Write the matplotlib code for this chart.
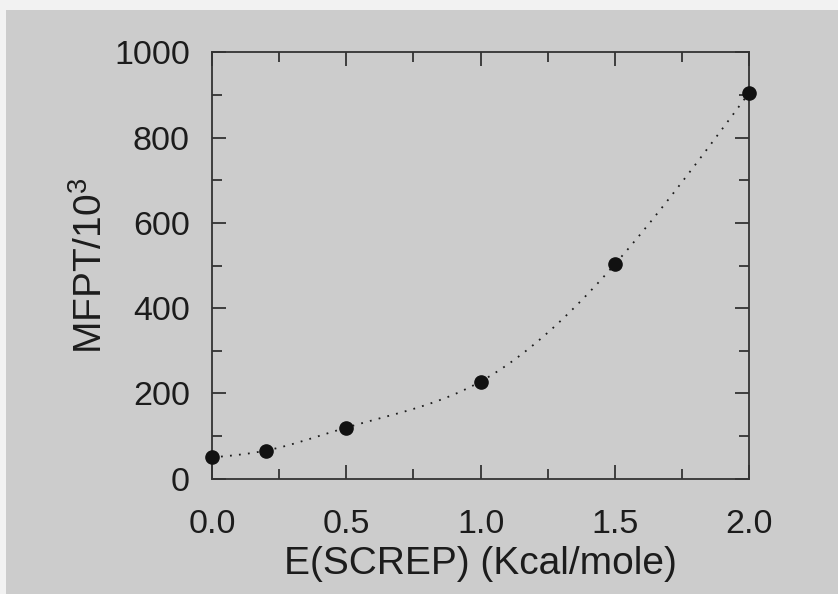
import numpy as np
import matplotlib
matplotlib.use("Agg")
import matplotlib.pyplot as plt
from matplotlib.patches import Rectangle
from matplotlib.ticker import MultipleLocator

# Data
energy = [0.0, 0.2, 0.5, 1.0, 1.5, 2.0]
mfpt = [50, 66, 120, 228, 503, 905]

x_ticks = [0.0, 0.5, 1.0, 1.5, 2.0]
x_ticklabels = ["0.0", "0.5", "1.0", "1.5", "2.0"]
y_ticks = [0, 200, 400, 600, 800, 1000]
y_ticklabels = ["0", "200", "400", "600", "800", "1000"]


def natural_spline(x, y, xs):
    x = np.asarray(x, float)
    y = np.asarray(y, float)
    n = len(x)
    h = np.diff(x)
    A = np.zeros((n, n))
    r = np.zeros(n)
    A[0, 0] = A[-1, -1] = 1
    for i in range(1, n - 1):
        A[i, i - 1] = h[i - 1]
        A[i, i] = 2 * (h[i - 1] + h[i])
        A[i, i + 1] = h[i]
        r[i] = 6 * ((y[i + 1] - y[i]) / h[i] - (y[i] - y[i - 1]) / h[i - 1])
    M = np.linalg.solve(A, r)
    idx = np.clip(np.searchsorted(x, xs) - 1, 0, n - 2)
    x0, x1 = x[idx], x[idx + 1]
    hh = x1 - x0
    t0 = x1 - xs
    t1 = xs - x0
    return (M[idx] * t0 ** 3 / (6 * hh) + M[idx + 1] * t1 ** 3 / (6 * hh)
            + (y[idx] / hh - M[idx] * hh / 6) * t0
            + (y[idx + 1] / hh - M[idx + 1] * hh / 6) * t1)


plt.rcParams['font.family'] = ['Liberation Sans', 'DejaVu Sans']
plt.rcParams['mathtext.fontset'] = 'custom'
plt.rcParams['mathtext.rm'] = 'Liberation Sans'
plt.rcParams['mathtext.it'] = 'Liberation Sans'
plt.rcParams['mathtext.default'] = 'regular'

bg = '#cccccc'
ink = '#1c1c1c'
fig = plt.figure(figsize=(8.38, 5.94), dpi=100, facecolor=bg)
# light scan border at top and left
fig.patches.append(Rectangle((0, 1 - 10 / 594), 1, 10 / 594, transform=fig.transFigure,
                             facecolor='#f2f2f2', edgecolor='none', zorder=0))
fig.patches.append(Rectangle((0, 0), 6 / 838, 1, transform=fig.transFigure,
                             facecolor='#f2f2f2', edgecolor='none', zorder=0))

ax = fig.add_axes([0.253, 0.194, 0.641, 0.718])
ax.set_facecolor(bg)

# smooth curve through the points (dotted)
xs = np.linspace(0, 2, 400)
ax.plot(xs, natural_spline(energy, mfpt, xs), linestyle=(0, (1, 4)), color=ink, linewidth=1.3)
ax.plot(energy, mfpt, 'o', color='#111111', markersize=9.5, clip_on=False, zorder=5)

ax.set_xlim(0, 2.0)
ax.set_ylim(0, 1000)
ax.set_xticks(x_ticks)
ax.set_xticklabels(x_ticklabels)
ax.set_yticks(y_ticks)
ax.set_yticklabels(y_ticklabels)
ax.xaxis.set_minor_locator(MultipleLocator(0.25))
ax.yaxis.set_minor_locator(MultipleLocator(100))

for s in ax.spines.values():
    s.set_linewidth(1.3)
    s.set_color('#333333')

ax.tick_params(which='both', direction='in', top=True, right=True, color='#333333',
               labelcolor=ink, labelsize=24.5)
ax.tick_params(which='major', length=10, width=1.3)
ax.tick_params(which='minor', length=7, width=1.3)
ax.tick_params(axis='x', which='major', pad=22)
ax.tick_params(axis='y', which='major', pad=16)

ax.set_xlabel("E(SCREP) (Kcal/mole)", fontsize=28, color=ink, labelpad=4)
ax.set_ylabel("MFPT/10$^3$", fontsize=28, color=ink, labelpad=3)

fig.savefig("out.png", dpi=100, facecolor=bg)
